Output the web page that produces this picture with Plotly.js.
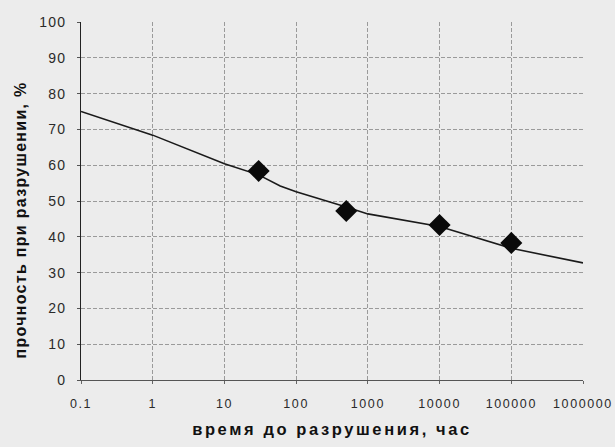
<!DOCTYPE html>
<html>
<head>
<meta charset="utf-8">
<script src="https://cdn.plot.ly/plotly-3.0.1.min.js"></script>
<style>
html,body{margin:0;padding:0;background:#ececec;}
#chart{width:615px;height:447px;}
#chart .xtick text{letter-spacing:1.6px;}
#chart .ytick text{letter-spacing:1.2px;}
#chart .xtitle{letter-spacing:2.6px;}
#chart .annotation-text{letter-spacing:1.3px;}
</style>
</head>
<body>
<div id="chart"></div>
<script>
// Fitted curve
const curveTime = [0.1, 1, 10, 30, 60, 100, 500, 1000, 10000, 100000, 1000000];
const curveStrength = [75, 68.4, 60.4, 57.3, 54.2, 52.6, 48.3, 46.4, 42.9, 36.8, 32.7];
// Experimental points
const pointTime = [30, 500, 10000, 100000];
const pointStrength = [58.4, 47.2, 43.3, 38.3];
// Tick labels
const xTickVals = [0.1, 1, 10, 100, 1000, 10000, 100000, 1000000];
const xTickText = ['0.1', '1', '10', '100', '1000', '10000', '100000', '1000000'];
const yTickVals = [0, 10, 20, 30, 40, 50, 60, 70, 80, 90, 100];
// Axis titles
const xTitle = 'время до разрушения, час';
const yTitle = 'прочность при разрушении, %';

const traces = [
  {
    x: curveTime, y: curveStrength, type: 'scatter', mode: 'lines',
    line: {color: '#1a1a1a', width: 1.6},
    hoverinfo: 'skip', showlegend: false
  },
  {
    x: pointTime, y: pointStrength, type: 'scatter', mode: 'markers',
    marker: {symbol: 'diamond', size: 17, color: '#0a0a0a'},
    showlegend: false
  }
];

const fam = 'Liberation Sans, Arial, sans-serif';

const layout = {
  width: 615, height: 447,
  margin: {l: 81, r: 32, t: 22, b: 67},
  paper_bgcolor: '#ececec',
  plot_bgcolor: '#ececec',
  font: {family: fam, size: 12, color: '#222'},
  showlegend: false,
  xaxis: {
    type: 'log',
    range: [-1, 6],
    tickvals: xTickVals,
    ticktext: xTickText,
    showgrid: true,
    gridcolor: '#9a9a9a',
    griddash: '4px,2px',
    gridwidth: 1,
    zeroline: false,
    showline: true,
    linecolor: '#555',
    linewidth: 1,
    ticks: 'outside',
    ticklen: 3,
    tickcolor: '#666',
    ticklabelstandoff: 9,
    tickfont: {family: fam, size: 12.5, color: '#2a2a2a'},
    title: {text: xTitle, font: {family: fam, size: 16.5, color: '#111', weight: 'bold'}, standoff: 13},
    automargin: false,
    fixedrange: true
  },
  yaxis: {
    range: [0, 100],
    tickvals: yTickVals,
    showgrid: true,
    gridcolor: '#9a9a9a',
    griddash: '4px,2px',
    gridwidth: 1,
    zeroline: false,
    showline: true,
    linecolor: '#222',
    linewidth: 1,
    ticks: 'outside',
    ticklen: 3,
    tickcolor: '#555',
    ticklabelstandoff: 8,
    tickfont: {family: fam, size: 14, color: '#2a2a2a'},
    automargin: false,
    fixedrange: true
  },
  annotations: [{
    text: yTitle,
    textangle: -90,
    xref: 'paper', x: 0, xanchor: 'center', xshift: -60,
    yref: 'paper', y: 0.447, yanchor: 'middle',
    showarrow: false,
    font: {family: fam, size: 16, color: '#111', weight: 'bold'}
  }]
};

Plotly.newPlot('chart', traces, layout, {displayModeBar: false, staticPlot: true});
</script>
</body>
</html>
